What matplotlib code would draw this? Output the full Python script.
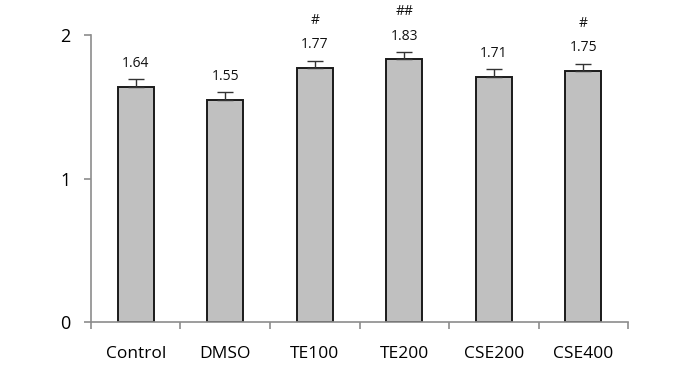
import matplotlib
matplotlib.use('Agg')
import matplotlib.pyplot as plt
import numpy as np

categories = ['Control', 'DMSO', 'TE100', 'TE200', 'CSE200', 'CSE400']
values = [1.64, 1.55, 1.77, 1.83, 1.71, 1.75]
errors = [0.05, 0.05, 0.05, 0.05, 0.05, 0.05]
marks = ['', '', '#', '##', '', '#']

plt.rcParams['font.family'] = ['Open Sans', 'DejaVu Sans']

fig = plt.figure(figsize=(6.75, 3.75), dpi=100)
ax = fig.add_axes([0.1348, 0.1413, 0.7956, 0.7654])

x = np.arange(len(categories))
ax.bar(x, values, width=0.4, color='#c0c0c0', edgecolor='#1a1a1a', linewidth=1.4, zorder=2)
ax.errorbar(x, values, yerr=[np.zeros(len(errors)), errors], fmt='none',
            ecolor='#333333', elinewidth=1.0, capsize=6, capthick=1.0, zorder=3)

for xi, v, e, m in zip(x, values, errors, marks):
    ax.text(xi, v + e + 0.06, f'{v:.2f}', ha='center', va='bottom', fontsize=10, color='#111111')
    if m:
        ax.text(xi, v + e + 0.23, m, ha='center', va='bottom', fontsize=10, color='#111111')

ax.set_xlim(-0.5, len(categories) - 0.5)
ax.set_ylim(0, 2)
ax.set_yticks([0, 1, 2])
ax.set_xticks(x)
ax.set_xticklabels(categories, fontsize=12.5)
ax.tick_params(axis='x', which='major', length=0, pad=17)
ax.set_xticks(np.arange(len(categories) + 1) - 0.5, minor=True)
ax.tick_params(axis='x', which='minor', length=5, color='#8c8c8c', width=1.2)
ax.tick_params(axis='y', length=5, color='#8c8c8c', width=1.2, labelsize=13, pad=10)

for s in ['top', 'right']:
    ax.spines[s].set_visible(False)
for s in ['left', 'bottom']:
    ax.spines[s].set_color('#8c8c8c')
    ax.spines[s].set_linewidth(1.2)

plt.savefig('out.png', dpi=100)
